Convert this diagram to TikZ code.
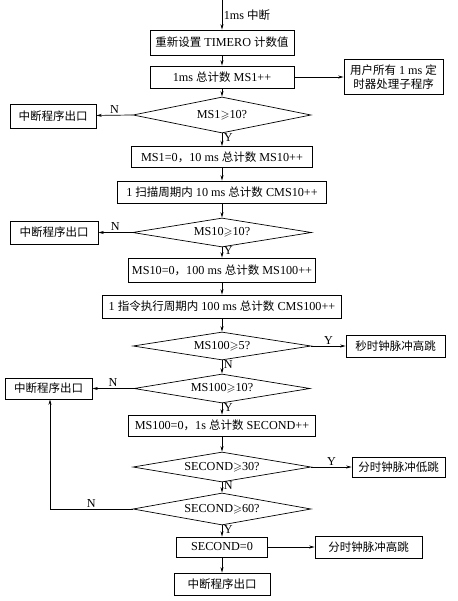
\documentclass[tikz,border=0pt]{standalone}
\usepackage{fontspec}
\usepackage{amssymb}
\setmainfont{Liberation Serif}[Scale=1.06]
\newfontfamily\cjk{Noto Sans CJK SC}
\usetikzlibrary{shapes.geometric,arrows.meta}
\newcommand{\zh}[1]{{\cjk #1}}
\tikzset{
  box/.style={draw, rectangle, inner sep=2pt, minimum height=22pt},
  test/.style={draw, diamond, aspect=6, inner sep=0pt, minimum width=178pt, minimum height=30pt},
  arr/.style={-{Stealth[length=5.5pt,width=3pt]}},
  lbl/.style={inner sep=1.5pt}
}

\begin{document}
\begin{tikzpicture}[x=1pt,y=-1pt,line width=0.7pt,font=\fontsize{11.5}{13.5}\selectfont]
      \useasboundingbox (0,0) rectangle (457,601);
      \coordinate (top) at (222,0);
      \node (b1) at (222,42.5) [box, minimum width=144pt, minimum height=25pt] {\zh{重新设置} TIMERO \zh{计数值}};
      \node (b2) at (222,77) [box, minimum width=144pt] {1ms \zh{总计数} MS1++};
      \node (sub) at (393.5,77) [box, minimum width=99pt, minimum height=35pt, align=center] {\zh{用户所有} 1 ms \zh{定}\\\zh{时器处理子程序}};
      \node (d1) at (222,115) [test, minimum height=36pt] {MS1$\geqslant$10?};
      \node (x1) at (53,116) [box, minimum width=86pt, minimum height=24pt] {\zh{中断程序出口}};
      \node (b3) at (222,157) [box, minimum width=181pt, minimum height=21pt] {MS1=0\zh{，}10 ms \zh{总计数} MS10++};
      \node (b4) at (222,192) [box, minimum width=209pt] {1 \zh{扫描周期内} 10 ms \zh{总计数} CMS10++};
      \node (d2) at (222,232.5) [test, minimum width=179pt, minimum height=29pt] {MS10$\geqslant$10?};
      \node (x2) at (54,232.5) [box, minimum width=88pt, minimum height=23pt] {\zh{中断程序出口}};
      \node (b5) at (222,270) [box, minimum width=187pt, minimum height=24pt] {MS10=0\zh{，}100 ms \zh{总计数} MS100++};
      \node (b6) at (222,306.5) [box, minimum width=239pt, minimum height=23pt] {1 \zh{指令执行周期内} 100 ms \zh{总计数} CMS100++};
      \node (d3) at (222,346) [test, minimum height=28pt] {MS100$\geqslant$5?};
      \node (r3) at (395.5,346) [box, minimum width=99pt] {\zh{秒时钟脉冲高跳}};
      \node (d4) at (222,388.5) [test, minimum width=176pt, minimum height=29pt] {MS100$\geqslant$10?};
      \node (x3) at (48.5,388.5) [box, minimum width=87pt, minimum height=21pt] {\zh{中断程序出口}};
      \node (b7) at (222,425.5) [box, minimum width=187pt, minimum height=21pt] {MS100=0\zh{，}1s \zh{总计数} SECOND++};
      \node (d5) at (222,467) [test] {SECOND$\geqslant$30?};
      \node (r5) at (398.5,467) [box, minimum width=93pt, minimum height=20pt] {\zh{分时钟脉冲低跳}};
      \node (d6) at (222,509) [test, minimum height=32pt] {SECOND$\geqslant$60?};
      \coordinate (k) at (50,509);
      \node (b8) at (222,547) [box, minimum width=91pt, minimum height=20pt] {SECOND=0};
      \node (r8) at (368.5,547) [box, minimum width=107pt] {\zh{分时钟脉冲高跳}};
      \node (b9) at (222,584) [box, minimum width=96pt] {\zh{中断程序出口}};
      \begin{scope}[arr]
        \draw (top) -- node[lbl,right]{1ms \zh{中断}} (b1);
        \draw (b1) -- (b2);
        \draw (b2) -- (sub);
        \draw (b2) -- (d1);
        \draw (d1.west) -- node[lbl,above]{N} (x1);
        \draw (d1) -- node[lbl,right,pos=0.3]{Y} (b3);
        \draw (b3) -- (b4);
        \draw (b4) -- (d2);
        \draw (d2.west) -- node[lbl,above]{N} (x2);
        \draw (d2) -- node[lbl,right,pos=0.35]{Y} (b5);
        \draw (b5) -- (b6);
        \draw (b6) -- (d3);
        \draw (d3.east) -- node[lbl,above]{Y} (r3);
        \draw (d3) -- node[lbl,right,pos=0.35]{N} (d4);
        \draw (d4.west) -- node[lbl,above]{N} (x3);
        \draw (d4) -- node[lbl,right,pos=0.35]{Y} (b7);
        \draw (b7) -- (d5);
        \draw (d5.east) -- node[lbl,above]{Y} (r5);
        \draw (d5) -- node[lbl,right,pos=0.35]{N} (d6);
        \draw (d6.west) -- node[lbl,above]{N} (k) -- (x3.south -| k);
        \draw (d6) -- node[lbl,right,pos=0.35]{Y} (b8);
        \draw (b8) -- (r8);
        \draw (b8) -- (b9);
      \end{scope}
    \end{tikzpicture}
\end{document}
